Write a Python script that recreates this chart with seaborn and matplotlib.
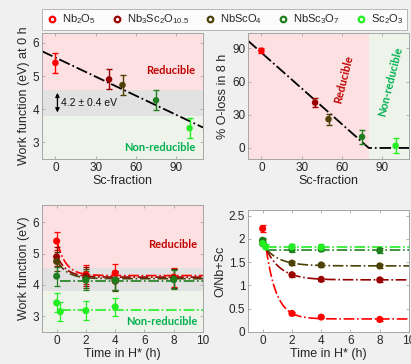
import numpy as np
import pandas as pd
import matplotlib
matplotlib.use("Agg")
import matplotlib.pyplot as plt
import seaborn as sns
from matplotlib.lines import Line2D

# ---------------- data ----------------
materials = ["Nb2O5", "Nb3Sc2O10.5", "NbScO4", "NbSc3O7", "Sc2O3"]
legend_labels = [r"Nb$_2$O$_5$", r"Nb$_3$Sc$_2$O$_{10.5}$", r"NbScO$_4$",
                 r"NbSc$_3$O$_7$", r"Sc$_2$O$_3$"]
colors = ["#ff0000", "#990000", "#4d4108", "#1f7f1f", "#22ee22"]

sc_fraction = [0, 40, 50, 75, 100]
wf_0h = [5.40, 4.90, 4.73, 4.27, 3.43]
wf_0h_err = [0.30, 0.30, 0.30, 0.30, 0.30]
oloss_8h = [88, 41, 26, 10, 2]
oloss_8h_err = [2, 4, 5, 6, 7]

wf_trend_x = [-10, 110]
wf_trend_y = [5.75, 3.45]
oloss_trend_x = [-10, 80, 110]
oloss_trend_y = [97, 0, 0]

# work function vs time
wf_time = {
    "Nb2O5": [0, 2, 4, 8],
    "Nb3Sc2O10.5": [0, 2, 4, 8],
    "NbScO4": [0, 2, 4, 8],
    "NbSc3O7": [0, 2, 4, 8],
    "Sc2O3": [0, 0.25, 2, 4],
}
wf_values = {
    "Nb2O5": [5.40, 4.33, 4.38, 4.25],
    "Nb3Sc2O10.5": [4.90, 4.27, 4.15, 4.20],
    "NbScO4": [4.75, 4.20, 4.12, 4.20],
    "NbSc3O7": [4.28, 4.15, 4.15, 4.17],
    "Sc2O3": [3.43, 3.15, 3.18, 3.30],
}
wf_err = 0.30
# fit curves: (start time, plateau, amplitude, decay time)
wf_fit = {
    "Nb2O5": (0.05, 4.30, 1.05, 0.60),
    "Nb3Sc2O10.5": (0.05, 4.25, 0.65, 0.65),
    "NbScO4": (0.05, 4.20, 0.55, 0.70),
    "NbSc3O7": (0.25, 4.13, 0.0, 1.0),
    "Sc2O3": (0.25, 3.20, 0.0, 1.0),
}

# O/(Nb+Sc) vs time
ratio_time = {
    "Nb2O5": [0, 2, 4, 8],
    "Nb3Sc2O10.5": [0, 2, 4, 8],
    "NbScO4": [0, 2, 4, 8],
    "NbSc3O7": [0, 2, 4, 8],
    "Sc2O3": [0, 0.2, 2, 4],
}
ratio_values = {
    "Nb2O5": [2.22, 0.40, 0.32, 0.27],
    "Nb3Sc2O10.5": [1.90, 1.23, 1.13, 1.12],
    "NbScO4": [1.96, 1.48, 1.44, 1.42],
    "NbSc3O7": [1.97, 1.77, 1.78, 1.75],
    "Sc2O3": [1.90, 1.83, 1.83, 1.82],
}
ratio_err = {
    "Nb2O5": [0.08, 0.03, 0.03, 0.03],
    "Nb3Sc2O10.5": [0.04, 0.04, 0.04, 0.04],
    "NbScO4": [0.04, 0.04, 0.04, 0.04],
    "NbSc3O7": [0.05, 0.05, 0.05, 0.05],
    "Sc2O3": [0.05, 0.05, 0.06, 0.06],
}
ratio_fit = {
    "Nb2O5": (0.25, 0.28, 1.50, 0.70),
    "Nb3Sc2O10.5": (0.25, 1.12, 0.66, 1.00),
    "NbScO4": (0.25, 1.42, 0.36, 1.00),
    "NbSc3O7": (0.25, 1.77, 0.0, 1.0),
    "Sc2O3": (0.25, 1.83, 0.0, 1.0),
}

# ---------------- style ----------------
sns.set_theme(style="ticks")
plt.rcParams["font.family"] = ["Liberation Sans", "DejaVu Sans"]
plt.rcParams["mathtext.default"] = "regular"

PINK = "#fce0e2"
GRAY = "#e2e2e2"
GREEN = "#eef4ea"
RED_TXT = "#c00000"
GRN_TXT = "#00b050"
SPINE = "#a6a6a6"
TICK = "#262626"

fig = plt.figure(figsize=(4.11, 3.64), dpi=100, facecolor="#f0f0f0")
W, H = 411, 364


def add_ax(l, t, r, b):
    return fig.add_axes([l / W, 1 - b / H, (r - l) / W, (b - t) / H])


ax1 = add_ax(42, 33, 203, 159)
ax2 = add_ax(248, 33, 409, 159)
ax3 = add_ax(42, 205, 203, 332)
ax4 = add_ax(248, 210, 409, 332)


def style(ax):
    for s in ax.spines.values():
        s.set_visible(True)
        s.set_color(SPINE)
        s.set_linewidth(0.7)
    ax.tick_params(direction="in", length=2.5, width=0.6, color=SPINE,
                   labelsize=8.5, labelcolor=TICK, pad=2,
                   top=True, right=True)
    ax.xaxis.label.set_color(TICK)
    ax.yaxis.label.set_color(TICK)


def label_font():
    return dict(family=["Lato", "DejaVu Sans"], fontweight="bold", fontsize=8)


# ---- panel 1: work function at 0 h vs Sc fraction ----
ax = ax1
ax.set_xlim(-10, 110)
ax.set_ylim(2.5, 6.3)
ax.axhspan(4.58, 6.3, color=PINK, lw=0, zorder=0)
ax.axhspan(3.8, 4.58, color=GRAY, lw=0, zorder=0)
ax.axhspan(2.5, 3.8, color=GREEN, lw=0, zorder=0)
sns.lineplot(x=wf_trend_x, y=wf_trend_y, ax=ax, color="black", lw=1.3,
             linestyle="-.", zorder=2)
for i, m in enumerate(materials):
    ax.errorbar(sc_fraction[i], wf_0h[i], yerr=wf_0h_err[i], fmt="none",
                ecolor=colors[i], elinewidth=1.0, capsize=2.2, capthick=1.0,
                zorder=3)
df1 = pd.DataFrame({"x": sc_fraction, "y": wf_0h, "m": materials})
sns.scatterplot(data=df1, x="x", y="y", hue="m", palette=colors, ax=ax,
                s=22, edgecolor="none", legend=False, zorder=4)
ax.annotate("", xy=(1.5, 3.82), xytext=(1.5, 4.58),
            arrowprops=dict(arrowstyle="<|-|>", color="black", lw=0.9,
                            mutation_scale=6))
ax.text(4, 4.2, "4.2 ± 0.4 eV", fontsize=7.5, va="center", ha="left",
        color="#111111")
ax.text(86, 5.16, "Reducible", color=RED_TXT, ha="center", va="center",
        **label_font())
ax.text(78, 2.85, "Non-reducible", color=GRN_TXT, ha="center", va="center",
        **label_font())
ax.set_xticks([0, 30, 60, 90])
ax.set_yticks([3, 4, 5, 6])
ax.set_xlabel("Sc-fraction", fontsize=9, labelpad=1)
ax.set_ylabel("Work function (eV) at 0 h", fontsize=9, labelpad=2)
style(ax)

# ---- panel 2: O-loss vs Sc fraction ----
ax = ax2
ax.set_xlim(-10, 110)
ax.set_ylim(-10, 104)
ax.axvspan(-10, 80, color=PINK, lw=0, zorder=0)
ax.axvspan(80, 110, color=GREEN, lw=0, zorder=0)
sns.lineplot(x=oloss_trend_x, y=oloss_trend_y, ax=ax, color="black", lw=1.3,
             linestyle="-.", zorder=2)
for i, m in enumerate(materials):
    ax.errorbar(sc_fraction[i], oloss_8h[i], yerr=oloss_8h_err[i], fmt="none",
                ecolor=colors[i], elinewidth=1.0, capsize=2.2, capthick=1.0,
                zorder=3)
df2 = pd.DataFrame({"x": sc_fraction, "y": oloss_8h, "m": materials})
sns.scatterplot(data=df2, x="x", y="y", hue="m", palette=colors, ax=ax,
                s=22, edgecolor="none", legend=False, zorder=4)
ax.text(61, 62, "Reducible", color=RED_TXT, ha="center", va="center",
        rotation=76, **label_font())
ax.text(96, 60, "Non-reducible", color=GRN_TXT, ha="center", va="center",
        rotation=76, **label_font())
ax.set_xticks([0, 30, 60, 90])
ax.set_yticks([0, 30, 60, 90])
ax.set_xlabel("Sc-fraction", fontsize=9, labelpad=1)
ax.set_ylabel("% O-loss in 8 h", fontsize=9, labelpad=2)
style(ax)

# ---- panel 3: work function vs time ----
ax = ax3
ax.set_xlim(-1, 10)
ax.set_ylim(2.5, 6.55)
ax.axhspan(4.55, 6.55, color=PINK, lw=0, zorder=0)
ax.axhspan(3.8, 4.55, color=GRAY, lw=0, zorder=0)
ax.axhspan(2.5, 3.8, color=GREEN, lw=0, zorder=0)
for i, m in enumerate(materials):
    t0, plateau, amp, tau = wf_fit[m]
    tt = np.linspace(t0, 10, 200)
    sns.lineplot(x=tt, y=plateau + amp * np.exp(-(tt - t0) / tau), ax=ax,
                 color=colors[i], lw=1.2, linestyle="-.", zorder=2)
for i, m in enumerate(materials):
    ax.errorbar(wf_time[m], wf_values[m], yerr=wf_err, fmt="none",
                ecolor=colors[i], elinewidth=0.9, capsize=2.2, capthick=0.9,
                zorder=3)
    sns.scatterplot(x=wf_time[m], y=wf_values[m], color=colors[i], ax=ax,
                    s=26, edgecolor="none", legend=False, zorder=4)
ax.text(7.9, 5.3, "Reducible", color=RED_TXT, ha="center", va="center",
        **label_font())
ax.text(7.2, 2.84, "Non-reducible", color=GRN_TXT, ha="center", va="center",
        **label_font())
ax.set_xticks([0, 2, 4, 6, 8, 10])
ax.set_yticks([3, 4, 5, 6])
ax.set_xlabel("Time in H* (h)", fontsize=9, labelpad=1)
ax.set_ylabel("Work function (eV)", fontsize=9, labelpad=2)
style(ax)

# ---- panel 4: O/(Nb+Sc) vs time ----
ax = ax4
ax.set_facecolor("white")
ax.set_xlim(-1, 10)
ax.set_ylim(0, 2.62)
for i, m in enumerate(materials):
    t0, plateau, amp, tau = ratio_fit[m]
    tt = np.linspace(t0, 10, 200)
    sns.lineplot(x=tt, y=plateau + amp * np.exp(-(tt - t0) / tau), ax=ax,
                 color=colors[i], lw=1.2, linestyle="-.", zorder=2)
for i, m in enumerate(materials):
    ax.errorbar(ratio_time[m], ratio_values[m], yerr=ratio_err[m], fmt="none",
                ecolor=colors[i], elinewidth=0.9, capsize=2.2, capthick=0.9,
                zorder=3)
    sns.scatterplot(x=ratio_time[m], y=ratio_values[m], color=colors[i], ax=ax,
                    s=26, edgecolor="none", legend=False, zorder=4)
ax.set_xticks([0, 2, 4, 6, 8, 10])
ax.set_yticks([0, 0.5, 1, 1.5, 2, 2.5])
ax.set_yticklabels(["0", "0.5", "1", "1.5", "2", "2.5"])
ax.set_xlabel("Time in H* (h)", fontsize=9, labelpad=1)
ax.set_ylabel("O/Nb+Sc", fontsize=9, labelpad=2)
style(ax)

# ---- legend ----
handles = [Line2D([], [], ls="none", marker="o", markersize=4,
                  markerfacecolor="white", markeredgecolor=c,
                  markeredgewidth=1.6) for c in colors]
leg = fig.legend(handles, legend_labels, ncol=5, loc="center",
                 bbox_to_anchor=(42 / W, 1 - 30 / H, (407 - 42) / W, 21 / H),
                 mode="expand", fontsize=8, frameon=True, fancybox=False,
                 handletextpad=0.3, columnspacing=0.8, borderaxespad=0,
                 handlelength=1.2, borderpad=0.3)
leg.get_frame().set_edgecolor(SPINE)
leg.get_frame().set_linewidth(0.7)
leg.set_zorder(10)

fig.savefig("out.png", dpi=100, facecolor=fig.get_facecolor())
